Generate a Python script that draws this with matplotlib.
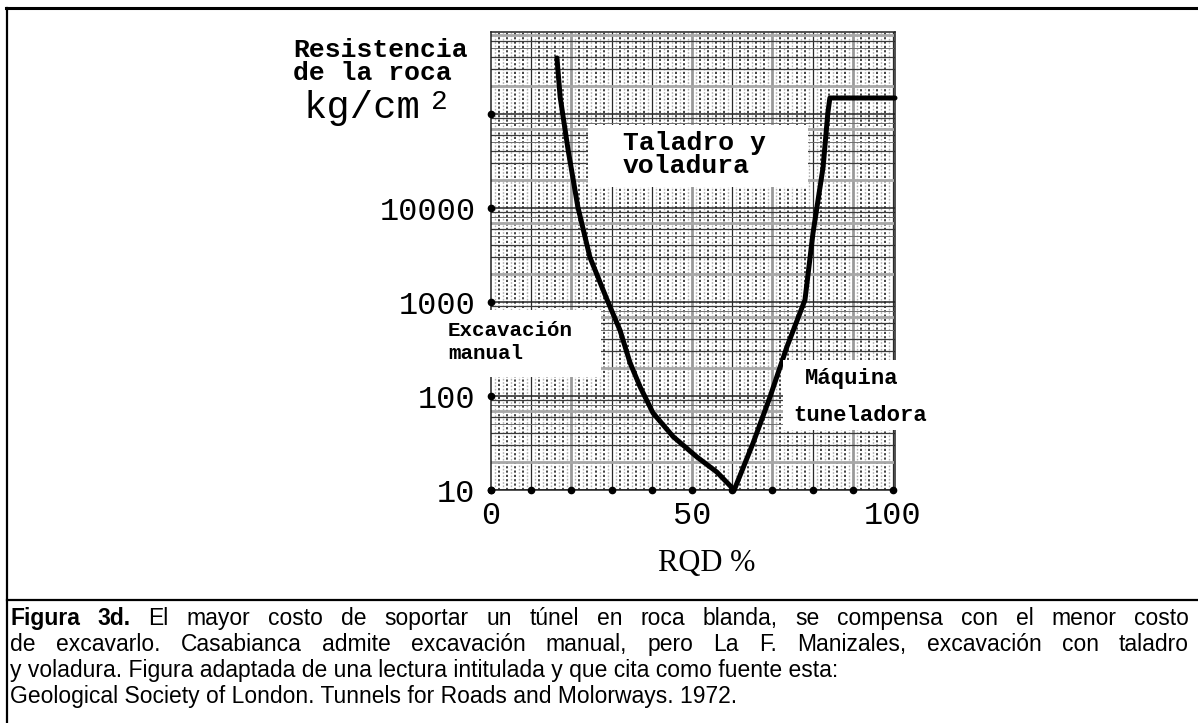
import matplotlib
matplotlib.use('Agg')
import matplotlib.pyplot as plt
from matplotlib.patches import Rectangle
from matplotlib.lines import Line2D
from matplotlib.ticker import NullLocator
import numpy as np

W, H = 1198, 723

# ---- data ----
rqd_left = [16.4, 17.2, 19.2, 21.6, 24.6, 28.9, 32.1, 34.6, 37.1, 40.3, 45.3, 51.2, 56.2, 60.5]
res_left = [395000, 152000, 41000, 10300, 3000, 1050, 500, 225, 125, 66, 37, 22.5, 15.5, 10]
rqd_right = [65.2, 69.4, 73.6, 78.1, 80.1, 82.6, 83.8, 84.3, 100.5]
res_right = [31.6, 97.5, 332, 1050, 5400, 27000, 103000, 148000, 148000]

x_ticks = [0, 50, 100]
x_ticklabels = ['0', '50', '100']
y_ticks = [10, 100, 1000, 10000]
y_ticklabels = ['10', '100', '1000', '10000']
x_dots = list(range(0, 101, 10))
y_dots = [10, 100, 1000, 10000, 100000]

caption_lines = [
    [("Figura", "bold"), ("3d.", "bold"), ("El", "normal"), ("mayor", "normal"), ("costo", "normal"),
     ("de", "normal"), ("soportar", "normal"), ("un", "normal"), ("túnel", "normal"), ("en", "normal"),
     ("roca", "normal"), ("blanda,", "normal"), ("se", "normal"), ("compensa", "normal"), ("con", "normal"),
     ("el", "normal"), ("menor", "normal"), ("costo", "normal")],
    [(w, "normal") for w in "de excavarlo. Casabianca admite excavación manual, pero La F. Manizales, excavación con taladro".split()],
]
caption_plain = [
    "y voladura. Figura adaptada de una lectura intitulada y que cita como fuente esta:",
    "Geological Society of London. Tunnels for Roads and Molorways. 1972.",
]

fig = plt.figure(figsize=(W / 100, H / 100), dpi=100)


def fx(x):
    return x / W


def fy(y):
    return 1 - y / H


ax = fig.add_axes([fx(491), fy(490), (895 - 491) / W, (490 - 32) / H])
ax.set_yscale('log')
ax.set_xlim(0, 100.5)
ax.set_ylim(10, 10 ** (1 + 458 / 94))

# graph-paper grid
for v in range(10, 101, 10):
    if v in (20, 50, 70, 90):
        ax.axvline(v, color='#9a9a9a', lw=2.0, zorder=1)
    else:
        ax.axvline(v, color='#2a2a2a', lw=0.9, zorder=1)
for v in range(1, 100):
    if v % 10 == 0:
        continue
    if v % 2 == 0:
        ax.axvline(v, color='#333333', lw=1.3, ls=(0, (1.2, 1.2)), zorder=1)
    else:
        ax.axvline(v, color='#b0b0b0', lw=1.0, ls=(0, (1.2, 1.2)), zorder=1)
for d in range(1, 6):
    for k in range(1, 10):
        yv = k * 10 ** d
        if k == 1:
            ax.axhline(yv, color='#222222', lw=1.1, zorder=1)
        elif k in (9, 6, 4, 3):
            ax.axhline(yv, color='#3a3a3a', lw=0.9, zorder=1)
        elif k in (7, 2):
            ax.axhline(yv, color='#a8a8a8', lw=2.0, zorder=1)
        else:
            ax.axhline(yv, color='#707070', lw=0.7, zorder=1)

for s in ax.spines.values():
    s.set_color('#222222')
    s.set_linewidth(1.1)

ax.yaxis.set_minor_locator(NullLocator())
ax.xaxis.set_minor_locator(NullLocator())
ax.set_xticks(x_ticks, x_ticklabels, fontfamily='Liberation Mono', fontsize=23)
ax.set_yticks(y_ticks, y_ticklabels, fontfamily='Liberation Mono', fontsize=23)
ax.tick_params(axis='both', which='both', length=0)
ax.tick_params(axis='x', pad=8)
ax.tick_params(axis='y', pad=11)

# dots on axes
ax.plot(x_dots, [10] * len(x_dots), 'o', color='black', ms=4.5, clip_on=False, zorder=5)
ax.plot([0] * len(y_dots), y_dots, 'o', color='black', ms=4.5, clip_on=False, zorder=5)

# curve
ax.plot(rqd_left + rqd_right, res_left + res_right, color='black', lw=3.6,
        solid_joinstyle='round', solid_capstyle='round', zorder=4, clip_on=False)

# white label boxes
for (x0, y0, x1, y1) in [(588, 125, 808, 187), (486, 310, 601, 377), (783, 360, 932, 430)]:
    fig.add_artist(Rectangle((fx(x0), fy(y1)), (x1 - x0) / W, (y1 - y0) / H,
                             transform=fig.transFigure, facecolor='white', edgecolor='none', zorder=2))

mono = 'Liberation Mono'
fig.text(fx(293), fy(57), "Resistencia", family=mono, weight='bold', fontsize=19, va='baseline', zorder=3)
fig.text(fx(293), fy(80), "de la roca", family=mono, weight='bold', fontsize=19, va='baseline', zorder=3)
fig.text(fx(304), fy(118), "kg/cm", family=mono, fontsize=28, va='baseline', zorder=3)
fig.text(fx(431), fy(109), "2", family=mono, fontsize=20, va='baseline', zorder=3)

fig.text(fx(623), fy(150), "Taladro y", family=mono, weight='bold', fontsize=19, va='baseline', zorder=3)
fig.text(fx(623), fy(173), "voladura", family=mono, weight='bold', fontsize=19, va='baseline', zorder=3)

fig.text(fx(448), fy(336), "Excavación", family=mono, weight='bold', fontsize=15, va='baseline', zorder=3)
fig.text(fx(448), fy(359), "manual", family=mono, weight='bold', fontsize=15, va='baseline', zorder=3)

fig.text(fx(805), fy(384), "Máquina", family=mono, weight='bold', fontsize=16, va='baseline', zorder=3)
fig.text(fx(793), fy(421), "tuneladora", family=mono, weight='bold', fontsize=16, va='baseline', zorder=3)

fig.text(fx(707), fy(563), "RQD %", family='Liberation Serif', fontsize=22, ha='center', va='center', zorder=3)

# frame lines
fig.add_artist(Line2D([fx(6), 1.0], [fy(8), fy(8)], color='black', lw=2.2, transform=fig.transFigure))
fig.add_artist(Line2D([fx(7), fx(7)], [fy(8), 0.0], color='black', lw=1.6, transform=fig.transFigure))
fig.add_artist(Line2D([fx(7), 1.0], [fy(600), fy(600)], color='black', lw=1.6, transform=fig.transFigure))

# caption
cap_size = 16.5
cap_x0, cap_x1 = 10, 1189
baselines = [625, 651, 677, 703]
fig.canvas.draw()
renderer = fig.canvas.get_renderer()
for pieces, yb in zip(caption_lines, baselines[:2]):
    texts = [fig.text(0, fy(yb), w, family='Liberation Sans', weight=wt, fontsize=cap_size,
                      va='baseline', ha='left') for w, wt in pieces]
    widths = [t.get_window_extent(renderer).width for t in texts]
    gap = (cap_x1 - cap_x0 - sum(widths)) / (len(texts) - 1)
    xx = cap_x0
    for t, wdt in zip(texts, widths):
        t.set_x(fx(xx))
        xx += wdt + gap
for line, yb in zip(caption_plain, baselines[2:]):
    fig.text(fx(cap_x0), fy(yb), line, family='Liberation Sans', fontsize=cap_size, va='baseline', ha='left')

fig.savefig('out.png', dpi=100)
